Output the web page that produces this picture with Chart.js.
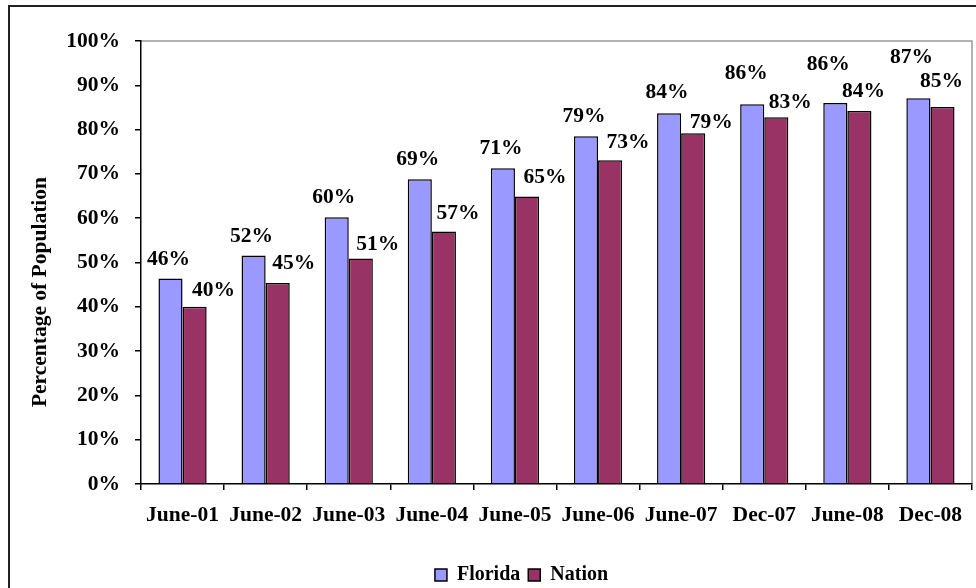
<!DOCTYPE html>
<html>
<head>
<meta charset="utf-8">
<script src="https://cdn.jsdelivr.net/npm/chart.js@4.4.1/dist/chart.umd.min.js"></script>
<style>
  html, body { margin: 0; padding: 0; background: #fff; }
  #wrap { width: 976px; height: 588px; position: relative; }
</style>
</head>
<body>
<div id="wrap"><canvas id="chart" width="976" height="588"></canvas></div>
<script>
const categories = ['June-01', 'June-02', 'June-03', 'June-04', 'June-05', 'June-06', 'June-07', 'Dec-07', 'June-08', 'Dec-08'];
const florida = [46.4, 51.6, 60.2, 68.8, 71.3, 78.5, 83.7, 85.7, 86.0, 87.1];
const nation = [40.0, 45.4, 50.9, 57.0, 64.9, 73.1, 79.2, 82.8, 84.2, 85.1];

// where each value label sits relative to the top centre of its bar (px)
const floridaLabelDx = [-2, -2, -3, -2, -2, -2, -2, -6, -7, -7];
const floridaLabelDy = [-19, -19, -20, -20, -20, -20, -21, -31, -39, -41];
const nationLabelDx = [19, 16, 17, 14, 18, 18, 18, 14, 4, -1];
const nationLabelDy = [-16, -19, -14, -18, -19, -18, -11, -15, -20, -26];

const FAMILY = "'Liberation Serif', 'Times New Roman', serif";
const FONT = { family: FAMILY, size: 21.5, weight: 'bold' };
const LEGEND_FONT = { family: FAMILY, size: 20, weight: 'bold' };

// outer frame + grey plot border
const framePlugin = {
  id: 'frame',
  beforeDraw(chart) {
    const ctx = chart.ctx;
    ctx.save();
    ctx.fillStyle = '#fff';
    ctx.fillRect(0, 0, chart.width, chart.height);
    ctx.strokeStyle = '#222';
    ctx.lineWidth = 2;
    ctx.strokeRect(9, 6, 1000, 700);
    const a = chart.chartArea;
    ctx.strokeStyle = '#999';
    ctx.lineWidth = 1.5;
    ctx.beginPath();
    ctx.moveTo(a.left, a.top);
    ctx.lineTo(a.right, a.top);
    ctx.lineTo(a.right, a.bottom);
    ctx.stroke();
    ctx.restore();
  }
};

// value labels above bars
const valueLabels = {
  id: 'valueLabels',
  afterDatasetsDraw(chart) {
    const ctx = chart.ctx;
    const nudges = [[floridaLabelDx, floridaLabelDy], [nationLabelDx, nationLabelDy]];
    ctx.save();
    ctx.font = `${FONT.weight} ${FONT.size}px ${FONT.family}`;
    ctx.fillStyle = '#000';
    ctx.textAlign = 'center';
    ctx.textBaseline = 'middle';
    chart.data.datasets.forEach((ds, i) => {
      const meta = chart.getDatasetMeta(i);
      meta.data.forEach((bar, j) => {
        const txt = Math.round(ds.data[j]) + '%';
        ctx.fillText(txt, bar.x + nudges[i][0][j], bar.y + nudges[i][1][j]);
      });
    });
    ctx.restore();
  }
};

// legend sits a bit right of centre in the original
const legendShift = {
  id: 'legendShift',
  afterLayout(chart) {
    const lg = chart.legend;
    lg.left += 31; lg.right += 31;
    lg.top += 7; lg.bottom += 7;
  }
};

new Chart(document.getElementById('chart'), {
  type: 'bar',
  data: {
    labels: categories,
    datasets: [
      { label: 'Florida', data: florida, backgroundColor: '#9999FF', borderColor: '#000', borderWidth: 1.5 },
      { label: 'Nation', data: nation, backgroundColor: '#993366', borderColor: '#000', borderWidth: 1.5 }
    ]
  },
  plugins: [framePlugin, valueLabels, legendShift],
  options: {
    responsive: false,
    animation: false,
    layout: { padding: { left: 9, top: 41, right: 4, bottom: 0 } },
    datasets: { bar: { categoryPercentage: 0.58, barPercentage: 1.0 } },
    plugins: {
      tooltip: { enabled: false },
      legend: {
        position: 'bottom',
        labels: { color: '#000', font: LEGEND_FONT, boxWidth: 12, boxHeight: 12, padding: 8 }
      }
    },
    scales: {
      x: {
        grid: { drawOnChartArea: false, drawTicks: true, tickLength: 6, color: '#000', lineWidth: 1.5, offset: true },
        border: { color: '#000', width: 1.5 },
        ticks: { color: '#000', font: FONT, padding: 13, maxRotation: 0, autoSkip: false },
        afterFit: s => { s.height = 66; }
      },
      y: {
        min: 0,
        max: 100,
        grid: { drawOnChartArea: false, tickLength: 6, color: '#000', lineWidth: 1.5 },
        border: { color: '#000', width: 1.5 },
        ticks: { stepSize: 10, color: '#000', font: FONT, padding: 15, callback: v => v + '%' },
        // trailing no-break spaces push the title a little below the axis middle, as in the original
        title: { display: true, text: 'Percentage of Population' + '\u00A0'.repeat(11), color: '#000', font: FONT, padding: { top: 19, bottom: 0 } },
        afterFit: s => { s.width = 132; }
      }
    }
  }
});
</script>
</body>
</html>
